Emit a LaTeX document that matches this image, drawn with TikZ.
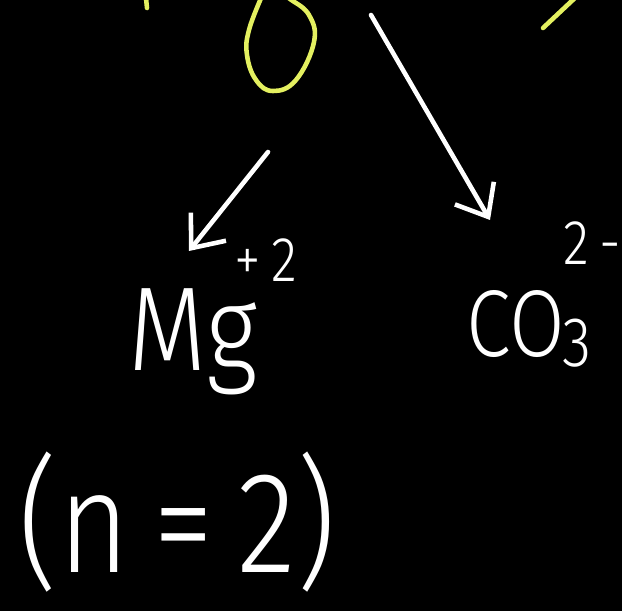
\documentclass[tikz,border=0pt]{standalone}
\usepackage{fontspec}
\newfontfamily\chalkfont[FakeStretch=0.85]{Fira Sans Light}
\usetikzlibrary{positioning,arrows.meta}
\definecolor{chalkyellow}{RGB}{228,240,96}
\tikzset{
  chalk/.style={text=white, inner sep=0pt, anchor=base west},
  chalkarrow/.style={draw=white, line width=2.6pt, line cap=round, line join=round,
    -{Straight Barb[length=5.5mm, width=9mm, line width=2.6pt]}},
  yellowstroke/.style={draw=chalkyellow, line width=2.6pt, line cap=round}
}
\begin{document}
\begin{tikzpicture}[x=0.02cm, y=-0.02cm]
  \fill[black] (0,0) rectangle (622,611);
  \useasboundingbox (0,0) rectangle (622,611);

  % yellow marks from the line above
  \draw[yellowstroke] (146,-2) -- (147,8);
  \draw[yellowstroke] plot[smooth, tension=0.7] coordinates
    {(262,-4) (249,30) (247,55) (256,80) (273,91) (296,80) (314,42) (309,15) (290,-1) (282,-6)};
  \draw[yellowstroke] (543,28) -- (576,-3);

  % ions
  \node[chalk, font=\chalkfont\fontsize{68}{68}\selectfont] (mg) at (128,370) {Mg};
  \node[chalk, font=\chalkfont\fontsize{36}{36}\selectfont] (mgcharge) at (234,281) {+\,2};
  \node[chalk, font=\chalkfont\fontsize{54}{54}\selectfont] (carb) at (466,356) {CO};
  \node[chalk, font=\chalkfont\fontsize{40}{40}\selectfont] (carbsub) at (562,366) {3};
  \node[chalk, font=\chalkfont\fontsize{36}{36}\selectfont] (carbcharge) at (563,265) {2\,-};
  \node[chalk, font=\chalkfont\fontsize{82}{82}\selectfont] (ncount) at (18,572) {(n\,=\,2)};

  % arrows
  \coordinate (mgtail) at (268,152);
  \coordinate (mgtip) at (189,251);
  \coordinate (carbtail) at (371,15);
  \coordinate (carbtip) at (490,220);
  \draw[chalkarrow] (mgtail) -- (mgtip);
  \draw[chalkarrow] (carbtail) -- (carbtip);
\end{tikzpicture}
\end{document}
